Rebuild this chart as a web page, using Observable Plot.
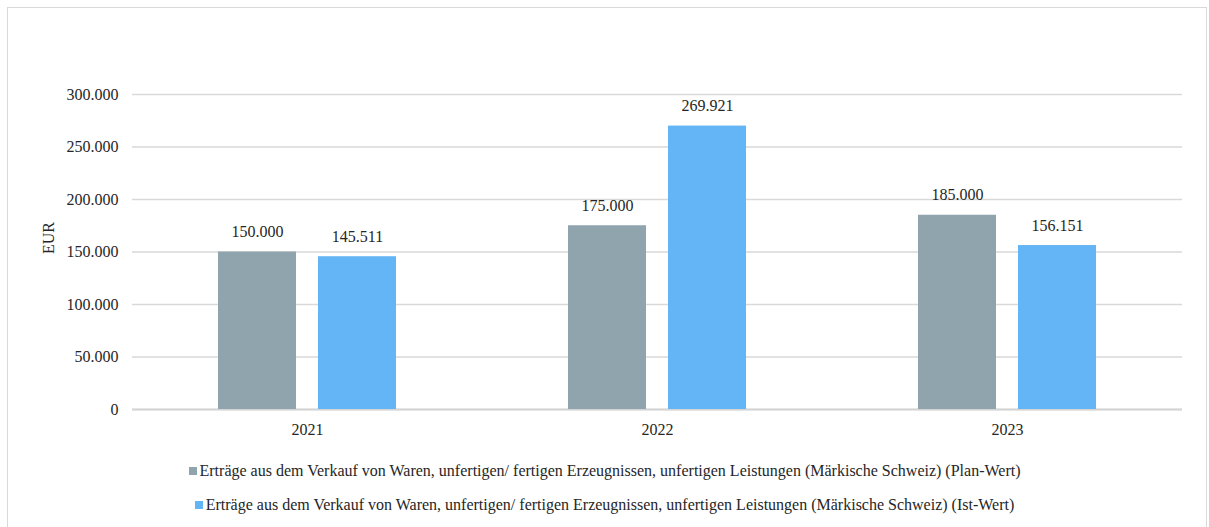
<!DOCTYPE html>
<html>
<head>
<meta charset="utf-8">
<script src="https://cdn.jsdelivr.net/npm/d3@7"></script>
<script src="https://cdn.jsdelivr.net/npm/@observablehq/plot@0.6"></script>
<style>
  html, body { margin: 0; padding: 0; background: #fff; }
  body { width: 1209px; height: 527px; position: relative; overflow: hidden; }
  #frame { position: absolute; left: 7px; top: 7px; width: 1200px; height: 560px; border: 1px solid #d9d9d9; box-sizing: border-box; }
  #chart { position: absolute; left: 0; top: 0; }
  #legend { position: absolute; left: 0; top: 461px; width: 1209px; display: flex; flex-direction: column; align-items: center; }
  .item { display: flex; align-items: center; height: 20px; margin-bottom: 14px; color: #262626; white-space: nowrap; }
  .sw { width: 8px; height: 8px; margin-right: 3px; display: inline-block; }
</style>
</head>
<body>
<div id="frame"></div>
<div id="chart"></div>
<div id="legend"></div>
<script>
const years = ["2021", "2022", "2023"];
const seriesNames = [
  "Erträge aus dem Verkauf von Waren, unfertigen/ fertigen Erzeugnissen, unfertigen Leistungen (Märkische Schweiz) (Plan-Wert)",
  "Erträge aus dem Verkauf von Waren, unfertigen/ fertigen Erzeugnissen, unfertigen Leistungen (Märkische Schweiz) (Ist-Wert)"
];
const seriesKeys = ["Plan", "Ist"];
const planValues = [150000, 175000, 185000];
const istValues = [145511, 269921, 156151];
const colors = ["#90A4AE", "#64B5F6"];
const yTicks = [0, 50000, 100000, 150000, 200000, 250000, 300000];
const yLabel = "EUR";

const FONT = "'Liberation Serif'";

const data = [];
years.forEach((y, i) => {
  data.push({year: y, key: seriesKeys[0], value: planValues[i]});
  data.push({year: y, key: seriesKeys[1], value: istValues[i]});
});

const de = d3.formatLocale({decimal: ",", thousands: ".", grouping: [3], currency: ["", " €"]});
const fmt = de.format(",.0f");

const chart = Plot.plot({
  width: 1209,
  height: 445,
  marginLeft: 132,
  marginRight: 27,
  marginTop: 94,
  marginBottom: 36,
  style: {fontFamily: FONT, fontSize: "16px", color: "#262626", background: "transparent"},
  fx: {domain: years, padding: 0, label: null, tickSize: 0, tickPadding: 14},
  x: {domain: seriesKeys, paddingInner: 0.22, paddingOuter: 0.86, axis: null},
  y: {domain: [0, 300000], ticks: yTicks, tickFormat: fmt, label: null, tickSize: 0, tickPadding: 14},
  color: {domain: seriesKeys, range: colors},
  marks: [
    Plot.gridY(yTicks, {stroke: "#d9d9d9", strokeOpacity: 1, strokeWidth: 1.5}),
    Plot.ruleY([0], {stroke: "#d4d4d4", strokeWidth: 2}),
    Plot.barY(data, {fx: "year", x: "key", y: "value", fill: "key"}),
    Plot.text(data, {fx: "year", x: "key", y: "value", text: d => fmt(d.value), lineAnchor: "bottom", dy: -15, fill: "#262626", fontSize: 16}),
    Plot.text([yLabel], {facet: "super", frameAnchor: "left", dx: -83.5, dy: 2, rotate: -90, text: d => d, fill: "#262626", fontSize: 16}),
    Plot.axisY({ticks: yTicks, tickFormat: fmt, tickSize: 0, tickPadding: 14, label: null, fontSize: 16})
  ]
});
chart.querySelectorAll("text, g").forEach(el => {
  el.style.fontFamily = FONT;
  el.setAttribute("font-family", "Liberation Serif");
});
document.getElementById("chart").appendChild(chart);

const legend = document.getElementById("legend");
seriesNames.forEach((name, i) => {
  const item = document.createElement("div");
  item.className = "item";
  const sw = document.createElement("span");
  sw.className = "sw";
  sw.style.background = colors[i];
  const t = document.createElement("span");
  t.style.fontFamily = FONT;
  t.style.fontSize = "16px";
  t.textContent = name;
  item.appendChild(sw);
  item.appendChild(t);
  legend.appendChild(item);
});
</script>
</body>
</html>
